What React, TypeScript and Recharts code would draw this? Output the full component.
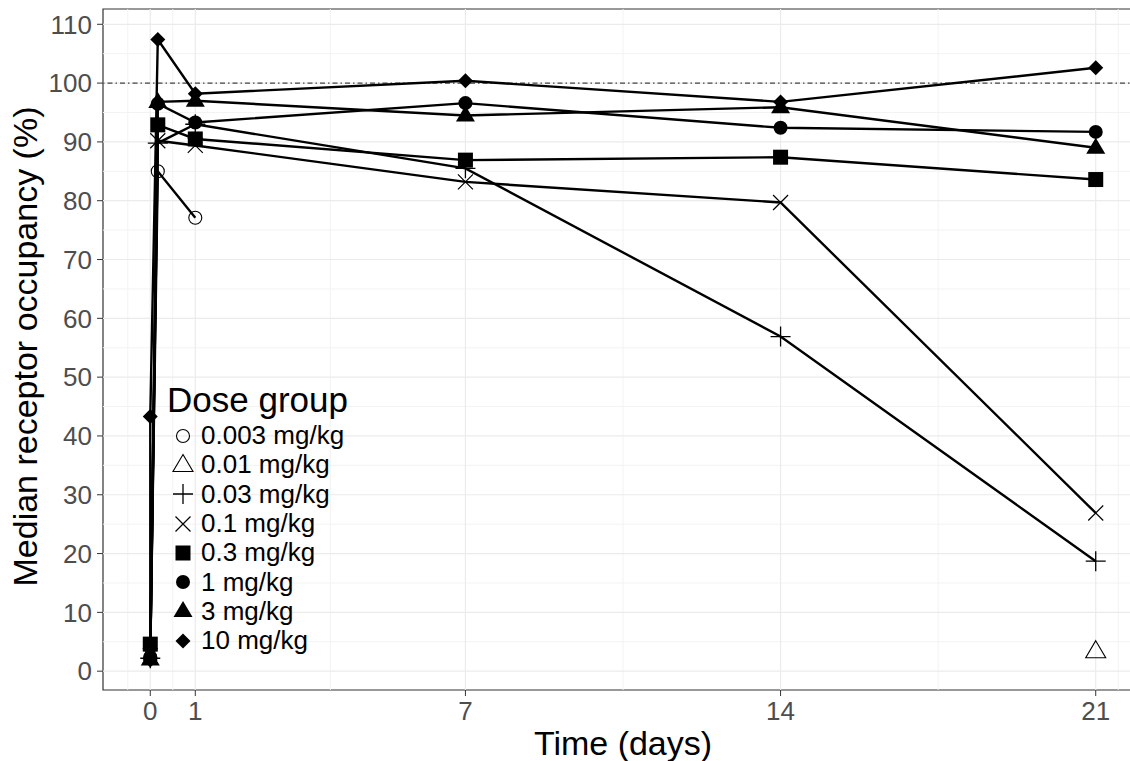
import {
  ComposedChart,
  Line,
  XAxis,
  YAxis,
  ReferenceLine,
  ReferenceArea,
  Legend,
} from "recharts";

const FONT = '"Liberation Sans", Arial, sans-serif';

// x ticks (days) and y ticks (%)
const X_TICKS = [0, 1, 7, 14, 21];
const X_MINOR = [-0.5, 0.5, 4, 10.5, 17.5, 21.5];
const Y_TICKS = [0, 10, 20, 30, 40, 50, 60, 70, 80, 90, 100, 110];
const Y_MINOR = [5, 15, 25, 35, 45, 55, 65, 75, 85, 95, 105];
const X_DOMAIN = [-1.05, 22.05];
const Y_DOMAIN = [-3.2, 112.6];

const DOSE_LABELS = [
  "0.003 mg/kg",
  "0.01 mg/kg",
  "0.03 mg/kg",
  "0.1 mg/kg",
  "0.3 mg/kg",
  "1 mg/kg",
  "3 mg/kg",
  "10 mg/kg",
];
const SHAPES = ["openCircle", "openTriangle", "plus", "cross", "square", "circle", "triangle", "diamond"];

// median occupancy per dose group: t = days, v = %
const dose0003 = [{ t: 0, v: 2.4 }, { t: 0.167, v: 85.0 }, { t: 1, v: 77.1 }];
const dose001 = [{ t: 21, v: 3.4 }];
const dose003 = [
  { t: 0, v: 2.2 }, { t: 0.167, v: 89.8 }, { t: 1, v: 93.0 },
  { t: 7, v: 85.5 }, { t: 14, v: 56.9 }, { t: 21, v: 18.7 },
];
const dose01 = [
  { t: 0, v: 2.6 }, { t: 0.167, v: 90.2 }, { t: 1, v: 89.4 },
  { t: 7, v: 83.2 }, { t: 14, v: 79.7 }, { t: 21, v: 26.9 },
];
const dose03 = [
  { t: 0, v: 4.6 }, { t: 0.167, v: 92.9 }, { t: 1, v: 90.5 },
  { t: 7, v: 86.9 }, { t: 14, v: 87.4 }, { t: 21, v: 83.6 },
];
const dose1 = [
  { t: 0, v: 2.3 }, { t: 0.167, v: 96.5 }, { t: 1, v: 93.3 },
  { t: 7, v: 96.6 }, { t: 14, v: 92.4 }, { t: 21, v: 91.7 },
];
const dose3 = [
  { t: 0, v: 2.0 }, { t: 0.167, v: 96.8 }, { t: 1, v: 97.0 },
  { t: 7, v: 94.5 }, { t: 14, v: 95.9 }, { t: 21, v: 89.0 },
];
const dose10 = [
  { t: 0, v: 1.9 }, { t: 0, v: 43.3 }, { t: 0.167, v: 107.4 }, { t: 1, v: 98.2 },
  { t: 7, v: 100.4 }, { t: 14, v: 96.8 }, { t: 21, v: 102.6 },
];

const SERIES = [dose0003, dose001, dose003, dose01, dose03, dose1, dose3, dose10];

function Marker({ kind, cx, cy }: { kind: string; cx: number; cy: number }) {
  switch (kind) {
    case "openCircle":
      return <circle cx={cx} cy={cy} r={6.5} fill="none" stroke="#000" strokeWidth={1.1} />;
    case "openTriangle":
      return (
        <polygon
          points={`${cx},${cy - 10.5} ${cx + 10},${cy + 6.5} ${cx - 10},${cy + 6.5}`}
          fill="none"
          stroke="#000"
          strokeWidth={1.1}
        />
      );
    case "plus":
      return (
        <path
          d={`M${cx - 10},${cy}H${cx + 10}M${cx},${cy - 10}V${cy + 10}`}
          stroke="#000"
          strokeWidth={1.3}
          fill="none"
        />
      );
    case "cross":
      return (
        <path
          d={`M${cx - 7.5},${cy - 7.5}L${cx + 7.5},${cy + 7.5}M${cx - 7.5},${cy + 7.5}L${cx + 7.5},${cy - 7.5}`}
          stroke="#000"
          strokeWidth={1.2}
          fill="none"
        />
      );
    case "square":
      return <rect x={cx - 7.5} y={cy - 7.5} width={15} height={15} fill="#000" />;
    case "circle":
      return <circle cx={cx} cy={cy} r={7} fill="#000" />;
    case "triangle":
      return <polygon points={`${cx},${cy - 10} ${cx + 9.5},${cy + 6} ${cx - 9.5},${cy + 6}`} fill="#000" />;
    default:
      return (
        <polygon
          points={`${cx},${cy - 7.5} ${cx + 7.5},${cy} ${cx},${cy + 7.5} ${cx - 7.5},${cy}`}
          fill="#000"
        />
      );
  }
}

function DoseLegend() {
  return (
    <div style={{ fontFamily: FONT, color: "#000" }}>
      <div style={{ fontSize: 35, lineHeight: "38px", marginLeft: 4 }}>Dose group</div>
      <div style={{ marginTop: 2 }}>
        {DOSE_LABELS.map((label, i) => (
          <div key={label} style={{ display: "flex", alignItems: "center", height: 29.3 }}>
            <svg width={38} height={26} style={{ display: "block" }}>
              <Marker kind={SHAPES[i]} cx={20} cy={13} />
            </svg>
            <span style={{ fontSize: 26, whiteSpace: "nowrap" }}>{label}</span>
          </div>
        ))}
      </div>
    </div>
  );
}

const tickStyle = { fontSize: 26, fill: "#4D4D4D", fontFamily: FONT };

export default function App() {
  return (
    <div
      style={{
        position: "absolute",
        left: 0,
        top: 0,
        width: 1130,
        height: 761,
        overflow: "hidden",
        background: "#fff",
      }}
    >
      <ComposedChart width={1150} height={761} margin={{ top: 9, right: 7, bottom: 0, left: 0 }}>
        <XAxis
          type="number"
          dataKey="t"
          domain={X_DOMAIN}
          ticks={X_TICKS}
          interval={0}
          allowDataOverflow
          height={71}
          axisLine={false}
          tickSize={6}
          tickMargin={6}
          tick={tickStyle}
          tickLine={{ stroke: "#333333" }}
          label={{
            content: (p: any) => (
              <text
                x={p.viewBox.x + p.viewBox.width / 2}
                y={p.viewBox.y + 65}
                textAnchor="middle"
                fontSize={34}
                fontFamily={FONT}
                fill="#000"
              >
                Time (days)
              </text>
            ),
          }}
        />
        <YAxis
          type="number"
          dataKey="v"
          domain={Y_DOMAIN}
          ticks={Y_TICKS}
          interval={0}
          allowDataOverflow
          width={103}
          axisLine={false}
          tickSize={6}
          tickMargin={5}
          tick={tickStyle}
          tickLine={{ stroke: "#333333" }}
          label={{
            content: (p: any) => {
              const x = p.viewBox.x + 37;
              const y = p.viewBox.y + p.viewBox.height / 2 - 3;
              return (
                <text
                  x={x}
                  y={y}
                  transform={`rotate(-90, ${x}, ${y})`}
                  textAnchor="middle"
                  fontSize={34}
                  fontFamily={FONT}
                  fill="#000"
                >
                  Median receptor occupancy (%)
                </text>
              );
            },
          }}
        />

        {X_MINOR.map((x) => (
          <ReferenceLine key={`xm-${x}`} x={x} stroke="#F3F3F3" strokeWidth={1} />
        ))}
        {Y_MINOR.map((y) => (
          <ReferenceLine key={`ym-${y}`} y={y} stroke="#F3F3F3" strokeWidth={1} />
        ))}
        {X_TICKS.map((x) => (
          <ReferenceLine key={`xg-${x}`} x={x} stroke="#EBEBEB" strokeWidth={1.2} />
        ))}
        {Y_TICKS.map((y) => (
          <ReferenceLine key={`yg-${y}`} y={y} stroke="#EBEBEB" strokeWidth={1.2} />
        ))}
        <ReferenceLine y={100} stroke="#444444" strokeWidth={1.1} strokeDasharray="1.5 3 5 3" />

        {SERIES.filter((data) => data.length > 1).map((data, i) => (
          <Line
            key={`line-${i}`}
            data={data}
            dataKey="v"
            type="linear"
            stroke="#000"
            strokeWidth={2.4}
            dot={false}
            activeDot={false}
            legendType="none"
            isAnimationActive={false}
          />
        ))}
        {SERIES.map((data, i) => (
          <Line
            key={`pts-${i}`}
            data={data}
            dataKey="v"
            type="linear"
            stroke="none"
            activeDot={false}
            legendType="none"
            isAnimationActive={false}
            dot={(p: any) => <Marker key={`m-${i}-${p.index}`} kind={SHAPES[i]} cx={p.cx} cy={p.cy} />}
          />
        ))}

        <ReferenceArea
          x1={X_DOMAIN[0]}
          x2={X_DOMAIN[1]}
          y1={Y_DOMAIN[0]}
          y2={Y_DOMAIN[1]}
          fill="none"
          fillOpacity={0}
          stroke="#333333"
          strokeWidth={1.2}
        />

        <Legend
          layout="horizontal"
          verticalAlign="middle"
          align="center"
          content={() => <DoseLegend />}
          wrapperStyle={{ left: 163, top: 381, width: "auto", height: "auto" }}
        />
      </ComposedChart>
    </div>
  );
}
